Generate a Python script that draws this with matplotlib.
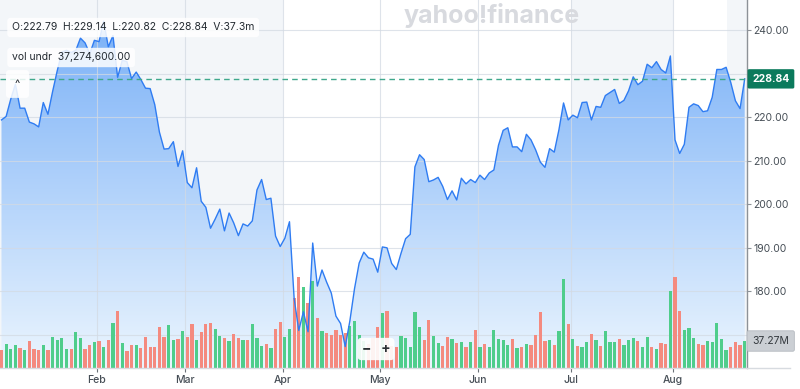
import numpy as np
import matplotlib
matplotlib.use("Agg")
import matplotlib.pyplot as plt
from matplotlib.colors import LinearSegmentedColormap
from matplotlib.lines import Line2D

plt.rcParams['font.family'] = ['Inter', 'DejaVu Sans']

# daily bars, 31 Dec -> 22 Aug (trading days only)
months = ['Feb', 'Mar', 'Apr', 'May', 'Jun', 'Jul', 'Aug']
month_start = [21, 40, 61, 82, 103, 123, 145]  # index of first session of each month

close = [
    219.4, 220.2, 224.2, 227.6, 222.1, 222.1, 218.9, 218.5, 217.8, 223.4,
    220.7, 225.9, 230.7, 235.0, 235.4, 234.9, 235.4, 238.2, 237.1, 234.6,
    237.7, 237.4, 242.1, 236.2, 238.8, 229.2, 233.1, 232.8, 228.9, 230.4,
    228.7, 226.7, 226.6, 222.9, 216.6, 212.7, 212.8, 214.4, 208.7, 212.3,
    205.0, 203.8, 208.4, 200.7, 199.3, 194.5, 196.6, 198.9, 193.9, 198.0,
    195.7, 192.8, 195.5, 195.0, 196.2, 203.3, 205.7, 201.1, 201.4, 192.7,
    190.3, 192.2, 196.0, 178.4, 171.0, 175.3, 170.7, 191.1, 181.2, 184.9,
    182.1, 179.6, 174.3, 172.6, 167.3, 173.2, 180.6, 186.5, 189.0, 187.7,
    187.4, 184.4, 190.2, 190.0, 186.4, 185.0, 188.7, 192.1, 193.1, 208.6,
    211.4, 210.3, 205.2, 205.6, 206.2, 204.1, 201.1, 203.1, 201.0, 206.0,
    204.7, 205.7, 205.0, 206.7, 205.7, 207.2, 207.9, 213.6, 217.0, 217.6,
    213.2, 213.2, 212.1, 216.1, 214.8, 212.5, 209.7, 208.5, 212.8, 212.0,
    217.1, 223.3, 219.4, 220.5, 219.9, 223.4, 223.5, 219.4, 222.5, 222.3,
    225.0, 225.7, 226.4, 223.2, 223.9, 226.1, 229.3, 227.5, 228.3, 232.2,
    231.4, 232.8, 231.0, 230.2, 234.1, 214.8, 211.7, 213.8, 222.3, 223.1,
    222.7, 221.3, 221.5, 224.6, 231.0, 231.0, 231.5, 228.0, 223.8, 222.0,
    228.84,
]

# volume in millions
volume = [
    24.4, 33.6, 26.7, 31.3, 28.1, 24.4, 36.8, 26.7, 24.4, 31.3,
    24.4, 42.4, 39.1, 41.4, 25.8, 25.8, 49.3, 41.4, 25.8, 31.3,
    35.9, 36.8, 29.0, 38.2, 61.7, 78.7, 35.0, 23.5, 31.3, 31.3,
    27.6, 42.4, 28.5, 29.0, 56.2, 42.8, 59.9, 39.1, 40.5, 51.6,
    42.8, 61.2, 38.2, 50.2, 60.8, 62.6, 53.9, 43.7, 41.4, 37.3,
    47.4, 41.4, 39.1, 39.1, 60.8, 41.4, 30.8, 33.0, 27.6, 54.0,
    64.0, 43.0, 54.0, 97.0, 126.0, 112.0, 90.0, 120.0, 69.0, 51.0,
    49.0, 45.0, 52.0, 46.0, 49.0, 58.0, 65.0, 45.0, 37.0, 33.0,
    42.0, 56.0, 75.5, 78.7, 30.0, 29.4, 44.2, 41.0, 29.5, 76.9,
    56.6, 38.7, 66.3, 44.2, 34.1, 29.9, 42.8, 39.6, 34.1, 35.5,
    28.5, 35.5, 52.0, 29.5, 33.1, 29.5, 52.0, 39.6, 38.7, 31.8,
    39.6, 27.2, 29.5, 33.1, 31.8, 45.6, 76.9, 37.8, 38.7, 31.8,
    51.1, 122.5, 60.3, 39.6, 30.8, 29.5, 36.4, 47.0, 38.7, 30.8,
    51.1, 36.4, 35.5, 39.6, 31.8, 38.7, 41.0, 37.8, 28.5, 42.8,
    28.5, 26.2, 34.1, 33.1, 106.4, 125.2, 78.7, 52.0, 55.7, 41.0,
    33.1, 31.8, 37.8, 36.4, 62.2, 39.6, 24.9, 29.5, 36.4, 31.8,
    37.27,
]

price_ticks = [170, 180, 190, 200, 210, 220, 230, 240]
hidden_ticks = [170, 230]  # covered by the tags

last_open, last_high, last_low = 222.79, 229.14, 220.82
last_volume_raw = 37274600

# light shaded periods (index ranges)
shade_spans = [(-1, 60.55), (122.55, 144.55), (156.2, 162)]

W, H = 800, 389
fig = plt.figure(figsize=(W / 100, H / 100), dpi=100)
rect = [0, 21 / H, 746.7 / W, 368 / H]
xlim = (-0.32, 160.43)
ylim = (162.37, 246.97)
vol_top = 368 / 0.724

x = np.arange(len(close))
close_a = np.array(close)
up = np.diff(close_a, prepend=np.nan) >= 0
bar_colors = np.where(up, '#4fcd8b', '#f48a7f')

ax = fig.add_axes(rect)
for a, b in shade_spans:
    ax.axvspan(a, b, color='#f3f6f9', lw=0, zorder=0)

# gradient area under the price line
cmap = LinearSegmentedColormap.from_list('area', ['#74adf7', '#ebf5fe'])
grad = np.linspace(0, 1, 256).reshape(-1, 1)
im = ax.imshow(grad, extent=[xlim[0], xlim[1], ylim[0], ylim[1]], origin='upper',
               aspect='auto', cmap=cmap, zorder=0.5)
area = ax.fill_between(x, close_a, ylim[0], color='none', lw=0)
im.set_clip_path(area.get_paths()[0], transform=ax.transData)

ax.set_xlim(xlim)
ax.set_ylim(ylim)

# volume bars
axv = ax.twinx()
axv.set_ylim(0, vol_top)
axv.bar(x, volume, width=0.7, color=bar_colors, lw=0)
axv.set_yticks([])
for s in axv.spines.values():
    s.set_visible(False)
axv.annotate(f'{volume[-1]:.2f}M', xy=(1, volume[-1]), xycoords=('axes fraction', 'data'),
             xytext=(4, 0), textcoords='offset points', ha='left', va='center',
             fontsize=7.5, color='#33383d', annotation_clip=False,
             bbox=dict(boxstyle='round,pad=0.5,rounding_size=0.15', fc='#cbcfd4', ec='#b5bac0', lw=0.6))

# price line
axl = ax.twinx()
axl.set_ylim(ylim)
axl.plot(x, close_a, color='#2f7cf2', lw=1.0)
axl.axhline(close[-1], color='#3fa88c', ls=(0, (4, 3)), lw=1)
axl.set_yticks([])
for s in axl.spines.values():
    s.set_visible(False)
axl.annotate(f'{close[-1]:.2f}', xy=(1, close[-1]), xycoords=('axes fraction', 'data'),
             xytext=(4, 0), textcoords='offset points', ha='left', va='center',
             fontsize=7.5, fontweight='bold', color='white', annotation_clip=False,
             bbox=dict(boxstyle='round,pad=0.45,rounding_size=0.15', fc='#0b7a5c', ec='none'))

# axis styling (after twinx, which moves ticks to the left)
ax.set_yticks(price_ticks)
ax.set_yticklabels(['' if t in hidden_ticks else f'{t:.2f}' for t in price_ticks])
ax.set_xticks(np.array(month_start) - 0.45)
ax.set_xticklabels(months)
ax.grid(True, color='#d3dae3', lw=0.8, alpha=0.75)
ax.yaxis.tick_right()
ax.yaxis.set_label_position('right')
ax.tick_params(axis='y', length=3, pad=2, labelsize=7.5, labelcolor='#464e56', color='#8d9298')
ax.tick_params(axis='x', length=3, pad=2, labelsize=7.5, labelcolor='#464e56', color='#6b7178')
for lab in ax.get_xticklabels():
    lab.set_fontweight('medium')
for s in ['left', 'top', 'bottom']:
    ax.spines[s].set_visible(False)
ax.spines['right'].set_visible(True)
ax.spines['right'].set_color('#8d9298')
ax.spines['right'].set_linewidth(1)


def px(xp, yp):
    return xp / W, 1 - yp / H


fig.add_artist(Line2D([0, 790 / W], [21 / H, 21 / H], color='#d7dbe0', lw=1))

fig.text(*px(492, 15), 'yahoo!finance', fontsize=18, fontweight='bold',
         color='#d8dadf', ha='center', va='center')

box = dict(boxstyle='round,pad=0.45,rounding_size=0.3', fc='white', ec='none', alpha=0.85)
fig.text(*px(12, 27.5),
         f'O:{last_open:.2f}  H:{last_high:.2f}  L:{last_low:.2f}  C:{close[-1]:.2f}  V:{volume[-1]:.1f}m',
         fontsize=7.5, color='#232a31', va='center', bbox=box)
fig.text(*px(12, 57.5), f'vol undr  {last_volume_raw:,.2f}', fontsize=7.5,
         color='#232a31', va='center', bbox=box)
fig.text(*px(17.5, 84), '^', fontsize=8, color='#232a31', ha='center', va='center',
         bbox=dict(boxstyle='round,pad=0.8,rounding_size=0.3', fc='white', ec='none', alpha=0.85))
fig.text(*px(376, 349), '\u2212   +', fontsize=10, fontweight='bold', color='#2b2f33',
         ha='center', va='center',
         bbox=dict(boxstyle='round,pad=0.3,rounding_size=0.3', fc='white', ec='none', alpha=0.9))

fig.savefig('out.png', dpi=100)
